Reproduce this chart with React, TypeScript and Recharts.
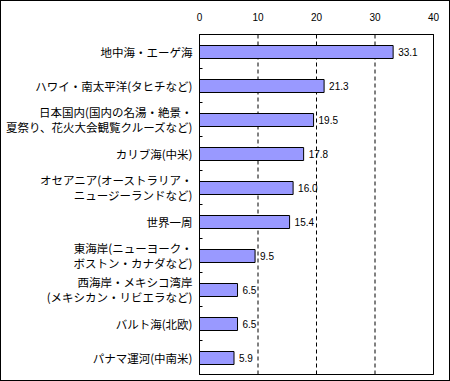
import React from "react";
import {
  BarChart,
  Bar,
  XAxis,
  YAxis,
  CartesianGrid,
  LabelList,
  ReferenceArea
} from "recharts";

const categories: string[] = [
  "地中海・エーゲ海",
  "ハワイ・南太平洋(タヒチなど)",
  "日本国内(国内の名湯・絶景・\n夏祭り、花火大会観覧クルーズなど)",
  "カリブ海(中米)",
  "オセアニア(オーストラリア・\nニュージーランドなど)",
  "世界一周",
  "東海岸(ニューヨーク・\nボストン・カナダなど)",
  "西海岸・メキシコ湾岸\n(メキシカン・リビエラなど)",
  "バルト海(北欧)",
  "パナマ運河(中南米)",
];

const values: number[] = [33.1, 21.3, 19.5, 17.8, 16.0, 15.4, 9.5, 6.5, 6.5, 5.9];

const xTicks: number[] = [0, 10, 20, 30, 40];

const data = categories.map((name, i) => ({ name, value: values[i] }));

const JP_FONT = "'Noto Sans CJK JP', sans-serif";
const NUM_FONT = "'Liberation Sans', Arial, sans-serif";

const CategoryTick = (props: any) => {
  const { x, y, payload } = props;
  const lines = String(payload.value).split("\n");
  const half = payload.offset || 17;
  const axisX = x + 7;
  const lineH = 15;
  const startY = y - ((lines.length - 1) * lineH) / 2;
  return (
    <g>
      <line x1={axisX} x2={axisX + 3} y1={y + half} y2={y + half} stroke="#000" />
      <text
        x={x}
        y={startY}
        textAnchor="end"
        dominantBaseline="central"
        fontSize={11.5}
        fontFamily={JP_FONT}
        fill="#000"
      >
        {lines.map((l, i) => (
          <tspan key={i} x={x} y={startY + i * lineH}>
            {l}
          </tspan>
        ))}
      </text>
    </g>
  );
};

const CruiseChart: React.FC = () => {
  return (
    <div
      style={{
        position: "absolute",
        left: 0,
        top: 0,
        width: 450,
        height: 381,
        border: "1px solid #000",
        boxSizing: "border-box",
        background: "#fff",
      }}
    >
      <BarChart
        width={448}
        height={379}
        data={data}
        layout="vertical"
        margin={{ top: 5.5, right: 15.5, bottom: 5.5, left: 0.5 }}
        barSize={13}
      >
        <CartesianGrid horizontal={false} stroke="#000" strokeDasharray="4 3" />
        <XAxis
          type="number"
          orientation="top"
          domain={[0, 40]}
          ticks={xTicks}
          height={28}
          axisLine={{ stroke: "#000" }}
          tickLine={false}
          tickSize={6}
          tickMargin={8}
          tick={{ fontSize: 10, fontFamily: NUM_FONT, fill: "#000" }}
          interval={0}
        />
        <YAxis
          type="category"
          dataKey="name"
          width={198}
          axisLine={{ stroke: "#000" }}
          tickLine={false}
          tickSize={6}
          tickMargin={1}
          tick={<CategoryTick />}
          interval={0}
        />
        <Bar dataKey="value" fill="#9999FF" stroke="#000" strokeWidth={1} isAnimationActive={false}>
          <LabelList
            dataKey="value"
            position="right"
            offset={5}
            formatter={(v: any) => Number(v).toFixed(1)}
            style={{ fontSize: 10, fontFamily: NUM_FONT, fill: "#000" }}
          />
        </Bar>
        <ReferenceArea x1={0} x2={40} fill="none" stroke="#000" strokeWidth={1} ifOverflow="visible" />
      </BarChart>
    </div>
  );
};

export default CruiseChart;
